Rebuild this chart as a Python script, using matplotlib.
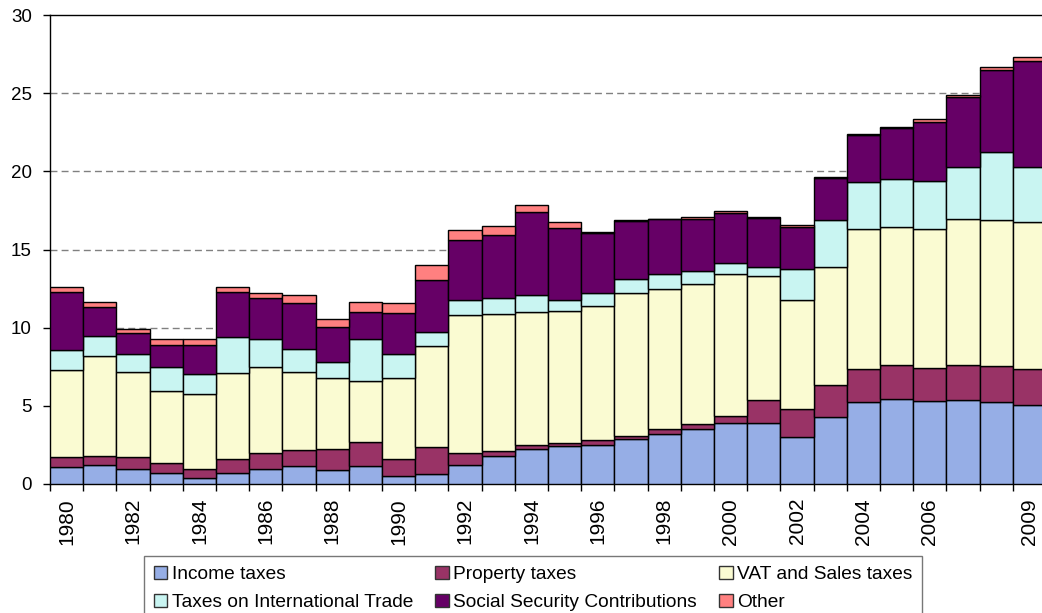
import numpy as np
import matplotlib.pyplot as plt
from matplotlib.patches import Patch

plt.rcParams['font.family'] = ['Liberation Sans', 'DejaVu Sans']

years = list(range(1980, 2010))
# tick labels as shown (every second year, 2008 left out, 2009 shown)
year_labels = [str(y) if (y % 2 == 0 and y != 2008) or y == 2009 else '' for y in years]

income = [1.11, 1.22, 0.94, 0.68, 0.36, 0.72, 0.94, 1.15, 0.90, 1.15,
          0.53, 0.62, 1.22, 1.81, 2.24, 2.43, 2.50, 2.88, 3.20, 3.51,
          3.92, 3.92, 2.99, 4.27, 5.23, 5.44, 5.29, 5.40, 5.27, 5.05]
property_tax = [0.64, 0.59, 0.81, 0.64, 0.58, 0.86, 1.02, 1.03, 1.32, 1.52,
                1.07, 1.73, 0.78, 0.32, 0.26, 0.21, 0.32, 0.19, 0.34, 0.35,
                0.43, 1.45, 1.79, 2.06, 2.15, 2.17, 2.15, 2.23, 2.28, 2.29]
vat_sales = [5.54, 6.40, 5.44, 4.63, 4.82, 5.55, 5.50, 4.99, 4.54, 3.94,
             5.20, 6.50, 8.79, 8.73, 8.52, 8.43, 8.59, 9.13, 8.94, 8.94,
             9.07, 7.94, 6.99, 7.57, 8.91, 8.85, 8.89, 9.31, 9.34, 9.44]
intl_trade = [1.28, 1.28, 1.13, 1.54, 1.28, 2.30, 1.82, 1.45, 1.07, 2.67,
              1.52, 0.87, 0.98, 1.02, 1.07, 0.70, 0.83, 0.94, 0.94, 0.81,
              0.70, 0.59, 1.99, 2.99, 3.01, 3.03, 3.06, 3.36, 4.33, 3.52]
social_sec = [3.73, 1.86, 1.36, 1.38, 1.83, 2.87, 2.60, 2.94, 2.19, 1.70,
              2.60, 3.35, 3.84, 4.05, 5.33, 4.63, 3.84, 3.69, 3.52, 3.35,
              3.20, 3.10, 2.70, 2.67, 3.03, 3.27, 3.77, 4.48, 5.27, 6.76]
other = [0.32, 0.27, 0.26, 0.39, 0.39, 0.28, 0.32, 0.53, 0.52, 0.64,
         0.64, 0.92, 0.64, 0.58, 0.41, 0.38, 0.05, 0.05, 0.04, 0.15,
         0.15, 0.10, 0.09, 0.06, 0.08, 0.10, 0.19, 0.13, 0.17, 0.26]

series = [
    ('Income taxes', income, '#96AEE6'),
    ('Property taxes', property_tax, '#993366'),
    ('VAT and Sales taxes', vat_sales, '#FAFBD2'),
    ('Taxes on International Trade', intl_trade, '#C9F5F2'),
    ('Social Security Contributions', social_sec, '#660066'),
    ('Other', other, '#FF8080'),
]

fig = plt.figure(figsize=(10.42, 6.13), dpi=100)
ax = fig.add_axes([50 / 1042, 1 - 484 / 613, 996 / 1042, 469 / 613])

x = np.arange(len(years))
bottom = np.zeros(len(years))
handles = []
for name, vals, col in series:
    ax.bar(x, vals, width=1.0, bottom=bottom, color=col,
           edgecolor='black', linewidth=1.0, zorder=3)
    bottom += np.array(vals)
    handles.append(Patch(facecolor=col, edgecolor='#333333', linewidth=1.0, label=name))

ax.set_xlim(-0.5, len(years) - 0.5)
ax.set_ylim(0, 30)
ax.set_yticks([0, 5, 10, 15, 20, 25, 30])
for y in [5, 10, 15, 20, 25]:
    ax.axhline(y, color='#808080', linewidth=1.0, dashes=(5, 3), zorder=1)

ax.set_xticks(x)
ax.set_xticklabels(year_labels, rotation=90)
ax.set_xticks(np.arange(-0.5, len(years), 1.0), minor=True)
ax.tick_params(axis='x', which='major', length=0, pad=10, labelsize=15)
ax.tick_params(axis='x', which='minor', length=5, width=1, direction='out')
ax.tick_params(axis='y', length=5, width=1, direction='out', pad=8, labelsize=13.5)

for s in ['left', 'bottom', 'top', 'right']:
    ax.spines[s].set_linewidth(1.0)
    ax.spines[s].set_color('black')

order = [0, 3, 1, 4, 2, 5]
leg = fig.legend([handles[i] for i in order], [series[i][0] for i in order],
                 ncol=3, loc='upper left', bbox_to_anchor=(144 / 1042, 1 - 556 / 613),
                 borderaxespad=0, fancybox=False, frameon=True, fontsize=13.8,
                 handlelength=0.7, handleheight=0.7, handletextpad=0.25,
                 columnspacing=1.15, labelspacing=0.55, borderpad=0.5)
leg.get_frame().set_edgecolor('#555555')
leg.get_frame().set_linewidth(1.0)

fig.savefig('out.png', dpi=100)
